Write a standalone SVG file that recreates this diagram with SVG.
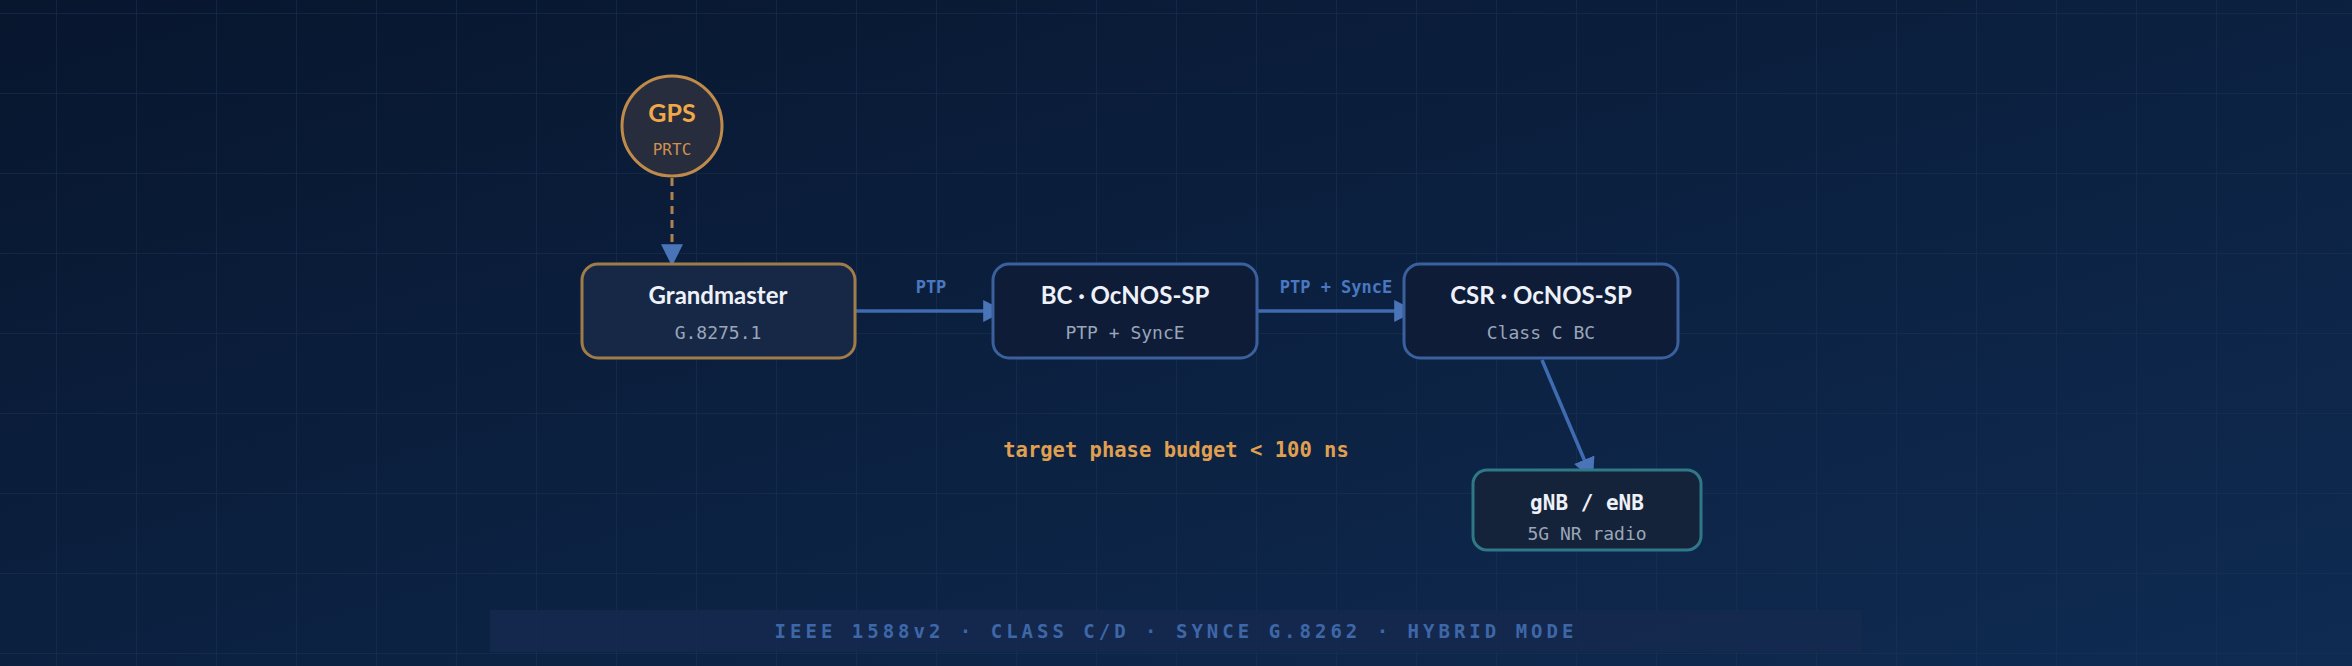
<svg xmlns="http://www.w3.org/2000/svg" width="2352" height="666" viewBox="0 0 2352 666">
<defs>
<linearGradient id="bg" x1="0" y1="0" x2="1" y2="1">
<stop offset="0" stop-color="#08162e"/><stop offset="1" stop-color="#0f2b52"/>
</linearGradient>
<pattern id="grid" x="56" y="13" width="80" height="80" patternUnits="userSpaceOnUse">
<path d="M0 0H80M0 0V80" fill="none" stroke="#1a3354" stroke-width="1.5" opacity="0.7"/>
</pattern>
<marker id="ahb" viewBox="0 0 10 10" refX="9" refY="5" markerWidth="22" markerHeight="22" markerUnits="userSpaceOnUse" orient="auto">
<path d="M0 0L10 5L0 10Z" fill="#4a74b8"/>
</marker>
</defs>
<style>
.t{font-family:Lato,"Liberation Sans",sans-serif;font-weight:700;font-size:24px;fill:#eef2f8;text-anchor:middle}
.s{font-family:"DejaVu Sans Mono","Liberation Mono",monospace;font-size:18px;fill:#9aa6b8;text-anchor:middle}
.lbl{font-family:"DejaVu Sans Mono","Liberation Mono",monospace;font-weight:700;font-size:17px;fill:#4a78c0;text-anchor:middle}
.box{stroke-width:3}
.edge{stroke:#3f6bb0;stroke-width:3.5;fill:none}
</style>
<rect width="2352" height="666" fill="url(#bg)"/>
<rect width="2352" height="666" fill="url(#grid)"/>
<g id="connectors">
<line x1="672" y1="178" x2="672" y2="264" stroke="#b08250" stroke-width="3" stroke-dasharray="8 6" marker-end="url(#ahb)"/>
<line class="edge" x1="856" y1="311" x2="1003" y2="311" marker-end="url(#ahb)"/>
<line class="edge" x1="1258" y1="311" x2="1414" y2="311" marker-end="url(#ahb)"/>
<line class="edge" x1="1542" y1="360" x2="1592" y2="478" marker-end="url(#ahb)"/>
<text class="lbl" x="931" y="293">PTP</text>
<text class="lbl" x="1336" y="293">PTP + SyncE</text>
</g>
<g id="gps">
<circle cx="672" cy="126" r="50" fill="#272d3c" stroke="#c08a4a" stroke-width="3"/>
<text x="672" y="122" font-family="Lato,'Liberation Sans',sans-serif" font-weight="700" font-size="25" fill="#f0a848" text-anchor="middle">GPS</text>
<text x="672" y="155" font-family="'DejaVu Sans Mono',monospace" font-size="16" fill="#d09050" text-anchor="middle">PRTC</text>
</g>
<g id="grandmaster">
<rect class="box" x="582" y="264" width="273" height="94" rx="16" fill="#172847" stroke="#a07c4a"/>
<text class="t" x="718" y="304">Grandmaster</text>
<text class="s" x="718" y="339">G.8275.1</text>
</g>
<g id="bc">
<rect class="box" x="993" y="264" width="264" height="94" rx="16" fill="#0e1c38" stroke="#3a619e"/>
<text class="t" x="1125" y="304">BC · OcNOS-SP</text>
<text class="s" x="1125" y="339">PTP + SyncE</text>
</g>
<g id="csr">
<rect class="box" x="1404" y="264" width="274" height="94" rx="16" fill="#0e1c38" stroke="#3a619e"/>
<text class="t" x="1541" y="304">CSR · OcNOS-SP</text>
<text class="s" x="1541" y="339">Class C BC</text>
</g>
<g id="gnb">
<rect class="box" x="1473" y="470" width="228" height="80" rx="14" fill="#14233a" stroke="#2f7888"/>
<text x="1587" y="510" font-family="'DejaVu Sans Mono',monospace" font-weight="700" font-size="21" fill="#eef2f8" text-anchor="middle">gNB / eNB</text>
<text class="s" x="1587" y="540">5G NR radio</text>
</g>
<text x="1176" y="457" font-family="'DejaVu Sans Mono',monospace" font-weight="700" font-size="20.5" fill="#e0a050" text-anchor="middle">target phase budget &lt; 100 ns</text>
<g id="footer">
<rect x="490" y="610" width="1372" height="42" fill="#15294f" opacity="0.9"/>
<text x="1176" y="638" font-family="'DejaVu Sans Mono',monospace" font-weight="700" font-size="19" letter-spacing="4" fill="#3e67a8" text-anchor="middle">IEEE 1588v2 · CLASS C/D · SYNCE G.8262 · HYBRID MODE</text>
</g>
</svg>
